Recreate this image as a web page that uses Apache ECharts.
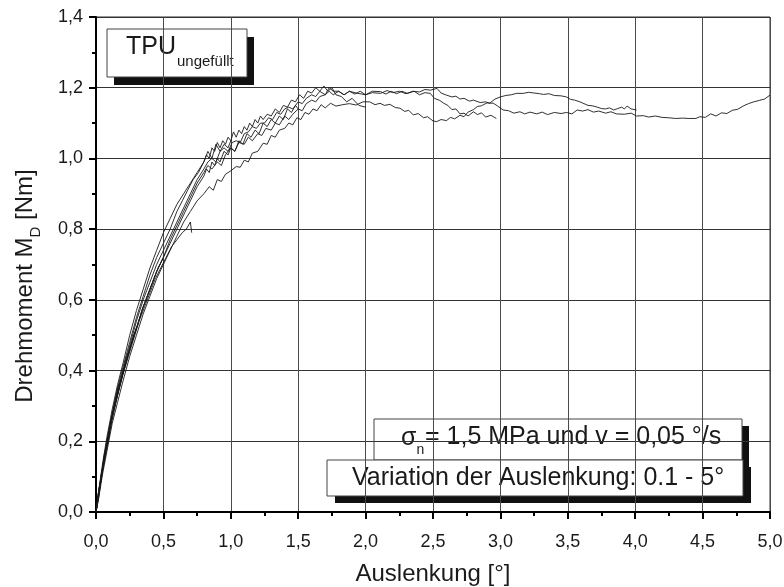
<!DOCTYPE html>
<html>
<head>
<meta charset="utf-8">
<script src="https://cdn.jsdelivr.net/npm/echarts@6/dist/echarts.min.js"></script>
<style>
  html, body { margin: 0; padding: 0; background: #fff; }
  #chart { width: 784px; height: 587px; }
</style>
</head>
<body>
<div id="chart"></div>
<script>
  // Drehmoment-Kurven; Name = maximale Auslenkung
  const c01 = [[0,0],[0.01,0.03],[0.02,0.06],[0.04,0.1],[0.06,0.15],[0.08,0.19],[0.1,0.22]];
  const c02 = [[0,0],[0.02,0.05],[0.04,0.11],[0.06,0.14],[0.08,0.2],[0.1,0.23],[0.12,0.27],[0.14,0.3],[0.16,0.34],[0.18,0.36],[0.2,0.4]];
  const c03 = [[0,0],[0.02,0.06],[0.04,0.1],[0.06,0.16],[0.08,0.19],[0.1,0.24],[0.13,0.29],[0.16,0.35],[0.19,0.38],[0.22,0.43],[0.25,0.46],[0.28,0.5],[0.3,0.52]];
  const c05 = [[0,0],[0.02,0.04],[0.04,0.1],[0.06,0.15],[0.08,0.18],[0.1,0.23],[0.13,0.29],[0.16,0.33],[0.19,0.38],[0.22,0.42],[0.25,0.46],[0.28,0.5],[0.31,0.53],[0.34,0.57],[0.37,0.6],[0.4,0.63],[0.43,0.66],[0.46,0.69],[0.5,0.72]];
  const c07 = [[0,0],[0.02,0.05],[0.05,0.12],[0.08,0.19],[0.11,0.25],[0.14,0.31],[0.17,0.35],[0.2,0.39],[0.24,0.44],[0.28,0.49],[0.32,0.54],[0.36,0.58],[0.4,0.62],[0.44,0.66],[0.48,0.69],[0.52,0.72],[0.56,0.75],[0.6,0.77],[0.64,0.79],[0.67,0.8],[0.7,0.82],[0.71,0.79]];
  const c10 = [[0,0],[0.02,0.06],[0.05,0.13],[0.08,0.2],[0.12,0.28],[0.16,0.35],[0.2,0.41],[0.25,0.48],[0.3,0.55],[0.35,0.61],[0.4,0.67],[0.45,0.72],[0.5,0.76],[0.55,0.8],[0.6,0.85],[0.64,0.88],[0.68,0.91],[0.72,0.94],[0.76,0.96],[0.8,0.99],[0.83,1.02],[0.86,1.0],[0.89,1.04],[0.92,1.02],[0.95,1.04],[0.98,1.03],[1.0,1.05]];
  const c15 = [[0,0],[0.02,0.05],[0.05,0.12],[0.08,0.19],[0.12,0.27],[0.16,0.33],[0.2,0.39],[0.25,0.46],[0.3,0.52],[0.35,0.58],[0.4,0.63],[0.45,0.68],[0.5,0.72],[0.55,0.76],[0.6,0.8],[0.65,0.84],[0.7,0.88],[0.75,0.92],[0.8,0.95],[0.82,0.97],[0.84,0.96],[0.86,0.99],[0.88,0.98],[0.9,1.0],[0.92,0.99],[0.95,1.02],[0.98,1.01],[1.0,1.03],[1.03,1.02],[1.06,1.05],[1.09,1.04],[1.12,1.07],[1.15,1.06],[1.18,1.08],[1.21,1.07],[1.24,1.1],[1.27,1.09],[1.3,1.11],[1.33,1.1],[1.36,1.12],[1.39,1.11],[1.42,1.14],[1.45,1.13],[1.48,1.15],[1.5,1.14]];
  const c20 = [[0,0],[0.02,0.06],[0.05,0.14],[0.08,0.21],[0.12,0.29],[0.16,0.36],[0.2,0.42],[0.25,0.5],[0.3,0.57],[0.35,0.63],[0.4,0.69],[0.45,0.74],[0.5,0.79],[0.55,0.83],[0.6,0.87],[0.65,0.9],[0.7,0.93],[0.75,0.96],[0.8,0.99],[0.82,1.01],[0.84,1.0],[0.86,1.03],[0.88,1.02],[0.9,1.045],[0.92,1.03],[0.94,1.05],[0.96,1.04],[0.98,1.06],[1.0,1.05],[1.02,1.075],[1.04,1.06],[1.06,1.08],[1.08,1.07],[1.1,1.09],[1.12,1.08],[1.14,1.1],[1.16,1.09],[1.18,1.11],[1.2,1.1],[1.22,1.12],[1.24,1.11],[1.27,1.125],[1.3,1.12],[1.33,1.14],[1.36,1.13],[1.39,1.15],[1.42,1.145],[1.45,1.165],[1.48,1.16],[1.51,1.18],[1.54,1.17],[1.57,1.19],[1.6,1.185],[1.63,1.2],[1.66,1.19],[1.69,1.205],[1.72,1.19],[1.75,1.2],[1.78,1.18],[1.82,1.175],[1.86,1.16],[1.9,1.17],[1.95,1.15],[2.0,1.145]];
  const c30 = [[0,0],[0.02,0.05],[0.05,0.12],[0.08,0.18],[0.12,0.26],[0.16,0.33],[0.2,0.39],[0.25,0.46],[0.3,0.52],[0.35,0.58],[0.4,0.63],[0.45,0.68],[0.5,0.72],[0.55,0.77],[0.6,0.81],[0.65,0.85],[0.7,0.89],[0.75,0.93],[0.8,0.96],[0.83,0.98],[0.86,0.97],[0.9,0.99],[0.93,0.98],[0.96,1.01],[1.0,1.03],[1.03,1.02],[1.06,1.045],[1.1,1.04],[1.13,1.06],[1.16,1.05],[1.2,1.07],[1.23,1.065],[1.26,1.085],[1.3,1.08],[1.33,1.1],[1.36,1.095],[1.4,1.12],[1.43,1.11],[1.46,1.125],[1.5,1.14],[1.53,1.135],[1.56,1.155],[1.6,1.165],[1.63,1.16],[1.66,1.175],[1.7,1.18],[1.73,1.19],[1.76,1.18],[1.8,1.19],[1.84,1.18],[1.88,1.19],[1.92,1.182],[1.96,1.19],[2.0,1.18],[2.05,1.19],[2.11,1.189],[2.15,1.182],[2.19,1.19],[2.23,1.183],[2.27,1.19],[2.31,1.184],[2.36,1.19],[2.4,1.18],[2.44,1.186],[2.48,1.184],[2.51,1.17],[2.55,1.164],[2.58,1.156],[2.61,1.15],[2.64,1.138],[2.67,1.14],[2.7,1.126],[2.73,1.128],[2.76,1.12],[2.8,1.132],[2.83,1.124],[2.86,1.129],[2.89,1.117],[2.93,1.122],[2.97,1.113]];
  const c40 = [[0,0],[0.02,0.05],[0.05,0.13],[0.08,0.19],[0.12,0.27],[0.16,0.34],[0.2,0.4],[0.25,0.47],[0.3,0.54],[0.35,0.6],[0.4,0.65],[0.45,0.7],[0.5,0.74],[0.55,0.78],[0.6,0.82],[0.65,0.86],[0.7,0.9],[0.75,0.94],[0.8,0.97],[0.83,0.99],[0.86,1.0],[0.89,0.99],[0.92,1.02],[0.95,1.03],[0.98,1.02],[1.01,1.045],[1.04,1.05],[1.07,1.045],[1.1,1.07],[1.13,1.075],[1.16,1.09],[1.19,1.085],[1.22,1.1],[1.25,1.1],[1.28,1.115],[1.31,1.11],[1.34,1.13],[1.37,1.125],[1.4,1.14],[1.43,1.145],[1.46,1.14],[1.5,1.16],[1.53,1.155],[1.56,1.17],[1.6,1.18],[1.63,1.175],[1.66,1.19],[1.7,1.18],[1.73,1.2],[1.76,1.19],[1.8,1.19],[1.84,1.18],[1.88,1.19],[1.93,1.185],[2.0,1.18],[2.05,1.186],[2.11,1.184],[2.16,1.192],[2.2,1.186],[2.25,1.19],[2.3,1.183],[2.35,1.19],[2.4,1.188],[2.44,1.195],[2.48,1.193],[2.53,1.198],[2.56,1.185],[2.6,1.179],[2.64,1.174],[2.67,1.176],[2.7,1.168],[2.73,1.17],[2.77,1.162],[2.8,1.165],[2.85,1.158],[2.89,1.16],[2.92,1.156],[2.96,1.168],[3.0,1.174],[3.04,1.178],[3.08,1.18],[3.12,1.184],[3.17,1.184],[3.21,1.187],[3.25,1.185],[3.29,1.183],[3.32,1.181],[3.36,1.183],[3.4,1.178],[3.45,1.177],[3.49,1.174],[3.52,1.167],[3.55,1.165],[3.59,1.16],[3.62,1.155],[3.65,1.15],[3.68,1.149],[3.71,1.146],[3.75,1.141],[3.78,1.14],[3.81,1.143],[3.84,1.137],[3.87,1.141],[3.9,1.145],[3.92,1.14],[3.94,1.148],[3.97,1.14],[4.01,1.137]];
  const c50 = [[0,0],[0.02,0.04],[0.05,0.11],[0.08,0.17],[0.12,0.25],[0.16,0.31],[0.2,0.37],[0.25,0.44],[0.3,0.5],[0.35,0.56],[0.4,0.61],[0.45,0.66],[0.5,0.7],[0.55,0.74],[0.6,0.78],[0.65,0.82],[0.7,0.85],[0.75,0.88],[0.8,0.9],[0.84,0.92],[0.87,0.91],[0.9,0.94],[0.93,0.935],[0.96,0.955],[1.0,0.965],[1.04,0.977],[1.07,0.975],[1.1,0.995],[1.13,0.99],[1.16,1.015],[1.2,1.02],[1.24,1.043],[1.27,1.04],[1.3,1.065],[1.33,1.06],[1.36,1.08],[1.4,1.085],[1.43,1.1],[1.46,1.095],[1.49,1.115],[1.52,1.11],[1.55,1.13],[1.58,1.125],[1.61,1.14],[1.64,1.135],[1.67,1.152],[1.7,1.143],[1.74,1.156],[1.78,1.148],[1.83,1.152],[1.88,1.155],[1.93,1.151],[1.98,1.16],[2.03,1.16],[2.07,1.152],[2.107,1.156],[2.14,1.15],[2.18,1.153],[2.22,1.144],[2.255,1.142],[2.29,1.133],[2.32,1.136],[2.354,1.123],[2.39,1.127],[2.43,1.115],[2.46,1.118],[2.5,1.106],[2.527,1.104],[2.56,1.11],[2.6,1.107],[2.63,1.116],[2.66,1.112],[2.7,1.122],[2.73,1.118],[2.76,1.131],[2.8,1.138],[2.83,1.147],[2.86,1.149],[2.9,1.157],[2.948,1.156],[2.98,1.148],[3.02,1.137],[3.06,1.135],[3.1,1.128],[3.145,1.132],[3.18,1.126],[3.22,1.131],[3.27,1.126],[3.31,1.131],[3.35,1.124],[3.4,1.13],[3.45,1.127],[3.49,1.13],[3.53,1.126],[3.57,1.137],[3.61,1.134],[3.65,1.138],[3.69,1.131],[3.73,1.134],[3.78,1.128],[3.82,1.132],[3.86,1.126],[3.92,1.125],[3.97,1.128],[4.01,1.12],[4.06,1.121],[4.1,1.117],[4.15,1.12],[4.2,1.116],[4.25,1.115],[4.3,1.113],[4.35,1.114],[4.4,1.113],[4.45,1.113],[4.48,1.118],[4.52,1.116],[4.56,1.126],[4.6,1.12],[4.64,1.129],[4.68,1.127],[4.72,1.136],[4.76,1.139],[4.8,1.148],[4.84,1.155],[4.88,1.16],[4.92,1.164],[4.96,1.168],[5.0,1.179]];
  const curves = [c01, c02, c03, c05, c07, c10, c15, c20, c30, c40, c50];

  const xRange = [0, 5, 0.5];
  const yRange = [0, 1.4, 0.2];

  const FONT = '"Liberation Sans", Arial, Helvetica, sans-serif';
  const INK = '#1a1a1a';
  const ctx = document.createElement('canvas').getContext('2d');
  function textW(s, size) {
    ctx.font = size + 'px ' + FONT;
    return ctx.measureText(s).width;
  }
  function txt(s, x, y, size) {
    return {
      type: 'text', x: x, y: y, silent: true,
      style: {text: s, fontSize: size, fontFamily: FONT, fill: INK, align: 'left', verticalAlign: 'middle'}
    };
  }
  // Kasten mit schwarzem Schatten
  function box(x, y, w, h, dx, dy) {
    return [
      {type: 'rect', shape: {x: x + dx, y: y + dy, width: w, height: h}, style: {fill: '#111'}, silent: true},
      {type: 'rect', shape: {x: x, y: y, width: w, height: h}, style: {fill: '#fff', stroke: '#444', lineWidth: 1}, silent: true}
    ];
  }

  const comma = v => v.toFixed(1).replace('.', ',');

  const chart = echarts.init(document.getElementById('chart'));

  const yl1 = 'Drehmoment M', yl2 = 'D', yl3 = ' [Nm]';
  const w1 = textW(yl1, 24), w2 = textW(yl2, 15), w3 = textW(yl3, 24);
  const y0 = -(w1 + w2 + w3) / 2;

  const graphic = [].concat(
    box(107, 29, 140, 48, 7, 8),
    [txt('TPU', 126, 47.5, 25), txt('ungefüllt', 127 + textW('TPU', 25), 62, 15)],
    box(374, 419, 368, 41, 7, 7),
    [txt('σ', 401, 438, 25), txt('n', 401 + textW('σ', 25), 450, 14), txt('= 1,5 MPa und v = 0,05 °/s', 425, 437.6, 25)],
    box(327, 460, 416, 36, 8, 7),
    [txt('Variation der Auslenkung: 0.1 - 5°', 352, 478, 25)],
    [{
      type: 'group', x: 25, y: 286, rotation: Math.PI / 2, silent: true,
      children: [
        txt(yl1, y0, 0, 24),
        txt(yl2, y0 + w1, 11, 15),
        txt(yl3, y0 + w1 + w2, 0, 24)
      ]
    }]
  );

  const option = {
    animation: false,
    grid: {
      left: 96, top: 17, right: 14, bottom: 75, outerBoundsMode: 'none',
      show: true, borderColor: '#333', borderWidth: 1
    },
    xAxis: {
      type: 'value', min: xRange[0], max: xRange[1], interval: xRange[2],
      name: 'Auslenkung [°]', nameLocation: 'middle', nameGap: 50,
      nameTextStyle: {fontSize: 24, fontFamily: FONT, color: INK},
      axisLine: {show: true, lineStyle: {color: '#000', width: 2}},
      axisTick: {show: true, inside: false, length: 7, lineStyle: {color: '#000', width: 2}},
      minorTick: {show: true, splitNumber: 2, length: 4, lineStyle: {color: '#000', width: 2}},
      axisLabel: {fontSize: 18, fontFamily: FONT, color: INK, margin: 21, formatter: comma},
      splitLine: {show: true, lineStyle: {color: '#4a4a4a', width: 1}}
    },
    yAxis: {
      type: 'value', min: yRange[0], max: yRange[1], interval: yRange[2],
      axisLine: {show: true, lineStyle: {color: '#000', width: 2}},
      axisTick: {show: true, inside: false, length: 7, lineStyle: {color: '#000', width: 2}},
      minorTick: {show: true, splitNumber: 2, length: 4, lineStyle: {color: '#000', width: 2}},
      axisLabel: {fontSize: 18, fontFamily: FONT, color: INK, margin: 13, formatter: comma},
      splitLine: {show: true, lineStyle: {color: '#333', width: 1}}
    },
    series: curves.map(d => ({
      type: 'line', data: d, showSymbol: false, silent: true,
      lineStyle: {color: INK, width: 0.9}
    })),
    graphic: graphic
  };

  chart.setOption(option);
</script>
</body>
</html>
